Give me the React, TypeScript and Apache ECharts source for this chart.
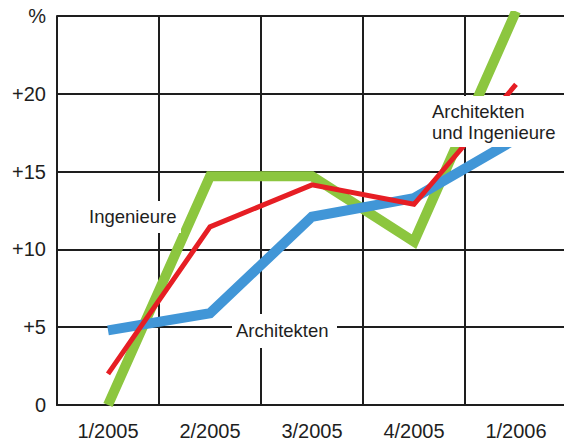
import React, { useEffect, useRef } from "react";
import * as echarts from "echarts";

const categories = ["1/2005", "2/2005", "3/2005", "4/2005", "1/2006"];
const ingenieure = [0, 14.7, 14.7, 10.5, 25.3];
const architekten = [4.8, 5.9, 12.1, 13.3, 17.1];
const gesamt = [2.0, 11.45, 14.15, 12.9, 20.6];
const yTicks = [0, 5, 10, 15, 20, 25];

const FONT = "Liberation Sans, Arial, sans-serif";
const INK = "#1e1e1e";

export default function App() {
  const ref = useRef<HTMLDivElement>(null);
  useEffect(() => {
    if (!ref.current) return;
    const chart = echarts.init(ref.current, null, { renderer: "svg" });
    const fmt = (v: number) => (v === 0 ? "0" : v === 25 ? "%" : "+" + v);
    const label = (text: string, x: number, y: number, w: number, h: number, tx: number, ty: number) => ({
      type: "group",
      z: 50,
      children: [
        { type: "rect", shape: { x, y, width: w, height: h }, style: { fill: "#ffffff" }, z: 50 },
        {
          type: "text",
          x: tx,
          y: ty,
          z: 51,
          style: {
            text,
            fill: INK,
            font: `18.5px ${FONT}`,
            lineHeight: 21,
            textAlign: "left",
            textVerticalAlign: "top",
          },
        },
      ],
    });
    chart.setOption({
      animation: false,
      backgroundColor: "#ffffff",
      grid: { left: 57, top: 16, right: 3, bottom: 41 },
      xAxis: {
        type: "category",
        data: categories,
        boundaryGap: true,
        axisLine: { show: true, lineStyle: { color: INK, width: 2 } },
        axisTick: { show: false },
        splitLine: { show: true, lineStyle: { color: INK, width: 2 } },
        axisLabel: { color: INK, fontSize: 20, fontFamily: FONT, margin: 16 },
      },
      yAxis: {
        type: "value",
        min: yTicks[0],
        max: yTicks[yTicks.length - 1],
        interval: 5,
        axisLine: { show: true, lineStyle: { color: INK, width: 2 } },
        axisTick: { show: false },
        splitLine: { show: true, lineStyle: { color: INK, width: 2 } },
        axisLabel: { color: INK, fontSize: 20, fontFamily: FONT, margin: 11, formatter: fmt },
      },
      series: [
        {
          name: "Ingenieure",
          type: "line",
          data: ingenieure,
          symbol: "none",
          clip: true,
          z: 3,
          lineStyle: { color: "#8cc63f", width: 10, join: "miter", cap: "butt" },
        },
        {
          name: "Architekten",
          type: "line",
          data: architekten,
          symbol: "none",
          clip: true,
          z: 4,
          lineStyle: { color: "#4196d7", width: 10, join: "miter", cap: "butt" },
        },
        {
          name: "Architekten und Ingenieure",
          type: "line",
          data: gesamt,
          symbol: "none",
          clip: true,
          z: 5,
          lineStyle: { color: "#e61e24", width: 5, join: "miter", cap: "butt" },
        },
      ],
      graphic: [
        label("Ingenieure", 86, 201, 95, 32, 89, 206),
        label("Architekten", 232, 314, 105, 34, 236, 320),
        label("Architekten\nund Ingenieure", 428, 96, 134, 51, 432, 101),
      ],
    });
    return () => chart.dispose();
  }, []);
  return (
    <div style={{ position: "absolute", left: 0, top: 0, width: 564, height: 446, overflow: "hidden" }}>
      <div ref={ref} style={{ width: 570, height: 446 }} />
    </div>
  );
}
